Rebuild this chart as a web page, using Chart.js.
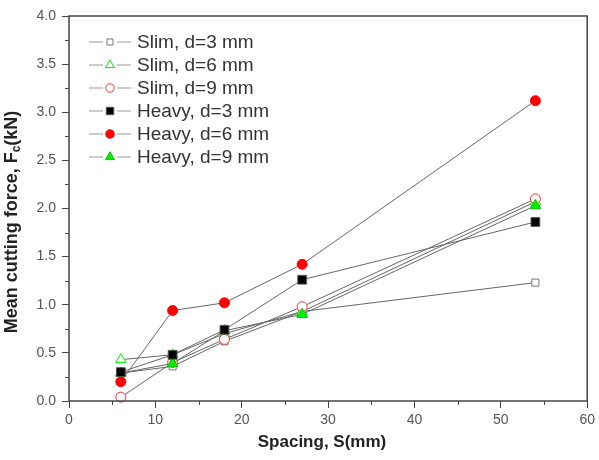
<!DOCTYPE html>
<html>
<head>
<meta charset="utf-8">
<script src="https://cdn.jsdelivr.net/npm/chart.js@4.4.1/dist/chart.umd.min.js"></script>
<style>
	body { margin: 0; background: #fff; }
	#wrap { width: 599px; height: 460px; }
</style>
</head>
<body>
<div id="wrap"><canvas id="forceChart" width="599" height="460"></canvas></div>
<script>
// Spacing values (mm) and mean cutting force (kN)
const spacing = [6, 12, 18, 27, 54];
const slimD3 = [0.29, 0.36, 0.62, 0.93, 1.23];
const slimD6 = [0.43, 0.48, 0.70, 0.93, 2.07];
const slimD9 = [0.04, 0.40, 0.64, 0.98, 2.10];
const heavyD3 = [0.30, 0.48, 0.74, 1.26, 1.86];
const heavyD6 = [0.20, 0.94, 1.02, 1.42, 3.12];
const heavyD9 = [0.29, 0.39, 0.73, 0.90, 2.03];

const seriesLabels = ['Slim, d=3 mm', 'Slim, d=6 mm', 'Slim, d=9 mm', 'Heavy, d=3 mm', 'Heavy, d=6 mm', 'Heavy, d=9 mm'];
const xTicks = [0, 10, 20, 30, 40, 50, 60];
const yTicks = [0, 0.5, 1.0, 1.5, 2.0, 2.5, 3.0, 3.5, 4.0];
const xTitle = 'Spacing, S(mm)';
const yTitle = ['Mean cutting force, F', 'c', '(kN)'];

const axisColor = '#444';
const lineColor = '#666';

// marker look for each series; lower drawOrder ends up on top
const markers = [
	{style: 'rect', radius: 5, fill: '#fff', border: '#777', drawOrder: 6},
	{style: 'triangle', radius: 6, fill: '#fff', border: '#00ee00', drawOrder: 5},
	{style: 'circle', radius: 5, fill: '#fff', border: '#ff3333', drawOrder: 4},
	{style: 'rect', radius: 6.2, fill: '#000', border: '#555', drawOrder: 1},
	{style: 'circle', radius: 5, fill: '#ff0000', border: '#ff0000', drawOrder: 3},
	{style: 'triangle', radius: 6.2, fill: '#00ee00', border: '#00cc00', drawOrder: 2},
];

const makeDataset = (label, values, i) => ({
	label: label,
	data: values.map((v, k) => ({x: spacing[k], y: v})),
	order: markers[i].drawOrder,
	borderColor: lineColor,
	borderWidth: 1,
	tension: 0,
	fill: false,
	clip: false,
	pointStyle: markers[i].style,
	pointRadius: markers[i].radius,
	pointBackgroundColor: markers[i].fill,
	pointBorderColor: markers[i].border,
	pointBorderWidth: 1,
});

const seriesValues = [slimD3, slimD6, slimD9, heavyD3, heavyD6, heavyD9];

// Frame, minor ticks, axis titles and the legend drawn by hand
const decorPlugin = {
	id: 'decor',
	afterDraw(chart) {
		const ctx = chart.ctx;
		const area = chart.chartArea;
		const xs = chart.scales.x;
		const ys = chart.scales.y;
		ctx.save();

		// frame round the plot
		ctx.strokeStyle = axisColor;
		ctx.lineWidth = 1.5;
		ctx.strokeRect(area.left, area.top, area.right - area.left, area.bottom - area.top);

		// minor ticks
		ctx.lineWidth = 1;
		ctx.beginPath();
		for (let v = 5; v < 60; v += 10) {
			const px = Math.round(xs.getPixelForValue(v)) + 0.5;
			ctx.moveTo(px, area.bottom);
			ctx.lineTo(px, area.bottom + 4);
		}
		for (let v = 0.25; v < 4; v += 0.5) {
			const py = Math.round(ys.getPixelForValue(v)) + 0.5;
			ctx.moveTo(area.left, py);
			ctx.lineTo(area.left - 4, py);
		}
		ctx.stroke();

		// x axis title
		ctx.fillStyle = '#222';
		ctx.font = 'bold 17px "Liberation Sans", Arial, sans-serif';
		ctx.textAlign = 'center';
		ctx.textBaseline = 'middle';
		ctx.fillText(xTitle, 322, 442);

		// y axis title with subscript
		ctx.translate(12, 222);
		ctx.rotate(-Math.PI / 2);
		const mainFont = 'bold 18px "Liberation Sans", Arial, sans-serif';
		const subFont = 'bold 12px "Liberation Sans", Arial, sans-serif';
		ctx.font = mainFont;
		const w1 = ctx.measureText(yTitle[0]).width;
		const w3 = ctx.measureText(yTitle[2]).width;
		ctx.font = subFont;
		const w2 = ctx.measureText(yTitle[1]).width;
		let x0 = -(w1 + w2 + w3) / 2;
		ctx.textAlign = 'left';
		ctx.font = mainFont;
		ctx.fillText(yTitle[0], x0, 0);
		ctx.font = subFont;
		ctx.fillText(yTitle[1], x0 + w1, 5);
		ctx.font = mainFont;
		ctx.fillText(yTitle[2], x0 + w1 + w2, 0);
		ctx.setTransform(1, 0, 0, 1, 0, 0);

		// legend
		ctx.font = '19px "Liberation Sans", Arial, sans-serif';
		ctx.textAlign = 'left';
		ctx.textBaseline = 'middle';
		chart.data.datasets.forEach((ds, i) => {
			const y = 42 + i * 23;
			ctx.strokeStyle = '#999';
			ctx.lineWidth = 1.2;
			ctx.beginPath();
			ctx.moveTo(89, y);
			ctx.lineTo(131, y);
			ctx.stroke();
			ctx.fillStyle = '#fff';
			ctx.fillRect(103, y - 6, 14, 12);
			ctx.fillStyle = markers[i].fill;
			ctx.strokeStyle = markers[i].border;
			ctx.lineWidth = 1;
			Chart.helpers.drawPoint(ctx, {
				pointStyle: markers[i].style,
				radius: markers[i].radius * 0.85,
				rotation: 0,
				borderWidth: 1,
			}, 110, y);
			ctx.fillStyle = '#333';
			ctx.fillText(ds.label, 137, y + 1);
		});
		ctx.restore();
	},
};

const forceChart = new Chart(document.getElementById('forceChart'), {
	type: 'line',
	data: {
		datasets: seriesLabels.map((label, i) => makeDataset(label, seriesValues[i], i)),
	},
	options: {
		responsive: false,
		animation: false,
		events: [],
		layout: {padding: {top: 16, right: 10, left: 0, bottom: 0}},
		plugins: {
			legend: {display: false},
			tooltip: {enabled: false},
		},
		scales: {
			x: {
				type: 'linear',
				min: 0,
				max: 60,
				afterFit: (scale) => {
					scale.height = 59;
				},
				afterBuildTicks: (scale) => {
					scale.ticks = xTicks.map((v) => ({value: v}));
				},
				border: {display: false},
				grid: {drawOnChartArea: false, tickLength: 7, color: axisColor, tickColor: axisColor},
				ticks: {
					color: '#555',
					padding: 4,
					maxRotation: 0,
					font: {family: '"Liberation Sans", Arial, sans-serif', size: 14},
				},
			},
			y: {
				min: 0,
				max: 4,
				afterFit: (scale) => {
					scale.width = 69;
				},
				afterBuildTicks: (scale) => {
					scale.ticks = yTicks.map((v) => ({value: v}));
				},
				border: {display: false},
				grid: {drawOnChartArea: false, tickLength: 7, color: axisColor, tickColor: axisColor},
				ticks: {
					color: '#555',
					padding: 6,
					callback: (value) => Number(value).toFixed(1),
					font: {family: '"Liberation Sans", Arial, sans-serif', size: 14},
				},
			},
		},
	},
	plugins: [decorPlugin],
});
</script>
</body>
</html>
